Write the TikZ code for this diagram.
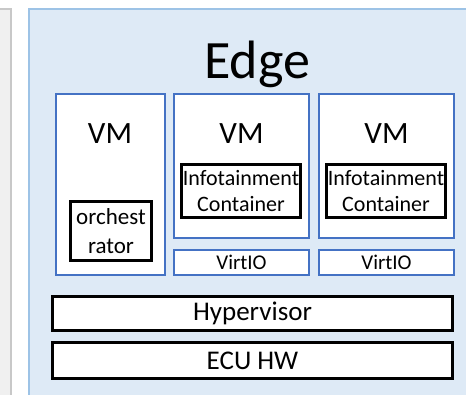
\documentclass[tikz,border=0pt]{standalone}
\usepackage{fontspec}
\setmainfont{Carlito}
\usetikzlibrary{positioning}
\definecolor{edgefill}{HTML}{DEEAF6}
\definecolor{edgeline}{HTML}{9DC3E6}
\definecolor{vmblue}{HTML}{4472C4}
\definecolor{panelgray}{HTML}{F0F0F0}
\definecolor{panelline}{HTML}{C8C8C8}

\begin{document}
\begin{tikzpicture}[
	x=1pt,y=-1pt,
	vmbox/.style={
	  draw=vmblue,
	  line width=2pt,
	  fill=white,
	  inner sep=0pt
	  },
	appbox/.style={
	  draw=black,
	  line width=2.4pt,
	  fill=white,
	  inner sep=0pt,
	  align=center,
	  font=\fontsize{22}{26}\selectfont
	  },
	layerbox/.style={
	  draw=black,
	  line width=2.8pt,
	  fill=white,
	  inner sep=0pt,
	  minimum width=400.2,
	  font=\fontsize{27}{32}\selectfont
	  },
	vmtext/.style={font=\fontsize{31}{36}\selectfont, inner sep=0pt, anchor=base}
	]
		\useasboundingbox (0,0) rectangle (466,394);
		\clip (0,0) rectangle (466,394);

		% side panels
		\draw[fill=panelgray, draw=panelline, line width=2.2pt] (-10,9) rectangle (11,410);
		\draw[fill=edgefill, draw=edgeline, line width=2pt] (29,9) rectangle (490,410);
		\node[font=\fontsize{54}{60}\selectfont, inner sep=0pt, anchor=base] (edge) at (257,78) {Edge};

		% virtual machines
		\node[vmbox, minimum width=109, minimum height=181] (vm1) at (110,184.5) {};
		\node[vmbox, minimum width=135, minimum height=144] (vm2) at (241.5,166) {};
		\node[vmbox, minimum width=135, minimum height=144] (vm3) at (386.5,166) {};
		\node[vmbox, minimum width=135, minimum height=25, font=\fontsize{21}{25}\selectfont, below=10pt of vm2] (vio2) {VirtIO};
		\node[vmbox, minimum width=135, minimum height=25, font=\fontsize{21}{25}\selectfont, below=10pt of vm3] (vio3) {VirtIO};

		\node[vmtext] (vm1t) at (110,143) {VM};
		\node[vmtext] (vm2t) at (241.5,143) {VM};
		\node[vmtext] (vm3t) at (386.5,143) {VM};

		% containers
		\node[appbox, minimum width=81, minimum height=59, font=\fontsize{23}{29}\selectfont] (orch) at (111,231) {orchest\\rator};
		\node[appbox, minimum width=119, minimum height=53] (info2) at (241,191) {Infotainment\\Container};
		\node[appbox, minimum width=119, minimum height=53] (info3) at (386,191) {Infotainment\\Container};

		% lower layers
		\node[layerbox, minimum height=34.2] (hyp) at (252.5,313.5) {Hypervisor};
		\node[layerbox, minimum height=36.2, below=9pt of hyp] (ecu) {ECU HW};
	\end{tikzpicture}
\end{document}
